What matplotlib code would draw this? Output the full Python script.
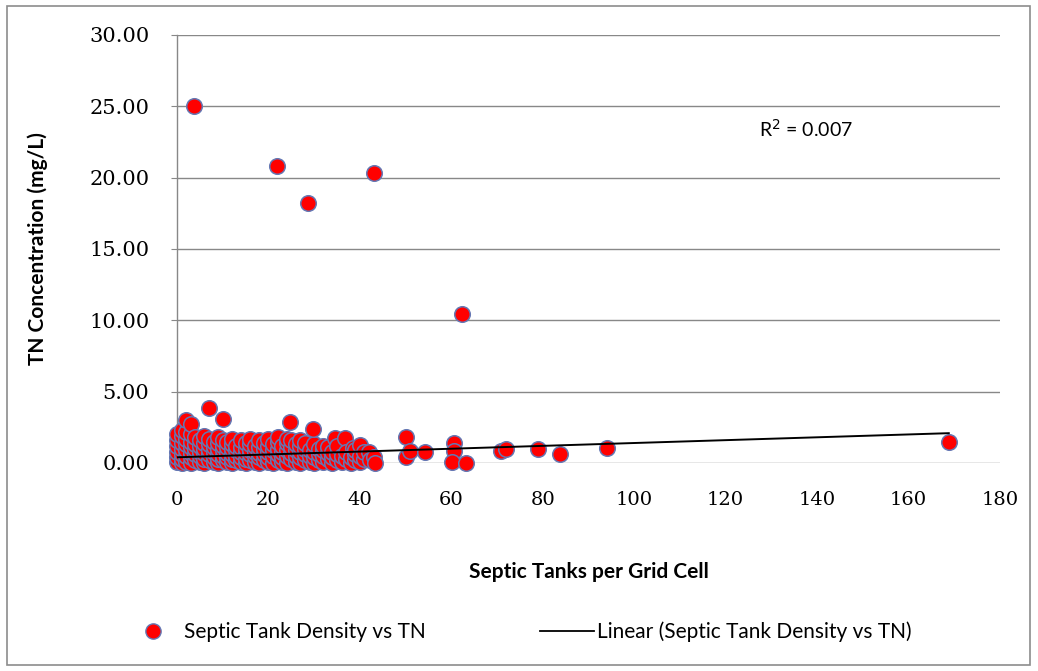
import matplotlib
matplotlib.use("Agg")
import matplotlib.pyplot as plt
from matplotlib.patches import Rectangle
from matplotlib.lines import Line2D

# septic tanks per grid cell (x) and TN concentration in mg/L (y)
tank_counts = [
    0, 0, 0, 0, 0, 0,
    1, 1, 1, 1, 1, 1, 1,
    2, 2, 2, 2, 2, 2, 2,
    3, 3, 3, 3, 3, 3, 3,
    3.7,
    4, 4, 4, 4, 4,
    5, 5, 5, 5, 5,
    6, 6, 6, 6, 6, 6,
    7, 7, 7, 7, 7, 7,
    8, 8, 8, 8, 8,
    9, 9, 9, 9, 9, 9,
    10, 10, 10, 10, 10, 10,
    11, 11, 11, 11, 11,
    12, 12, 12, 12, 12, 12,
    13, 13, 13, 13,
    14, 14, 14, 14, 14,
    15, 15, 15, 15, 15,
    16, 16, 16, 16, 16,
    17, 17, 17, 17,
    18, 18, 18, 18, 18,
    19, 19, 19, 19,
    20, 20, 20, 20, 20,
    21, 21, 21, 21,
    22, 22, 22, 22, 22, 21.9,
    23, 23, 23, 23,
    24, 24, 24, 24, 24,
    25, 25, 25, 25, 24.8,
    26, 26, 26, 26,
    27, 27, 27, 27, 27,
    28, 28, 28, 28,
    29, 29, 29, 28.7,
    30, 30, 30, 30, 29.8,
    31, 31, 31,
    32, 32, 32, 32,
    33, 33, 33,
    34, 34, 34, 34.6,
    35, 35, 35,
    36, 36, 36.8,
    37, 37,
    38, 38, 38.4,
    39, 39, 39,
    40, 40, 40,
    41, 41,
    42, 42.3,
    43, 43.4, 43.0,
    50, 50, 51, 54.2,
    60.6, 60.5, 60.2, 62.3, 63.1,
    70.8, 72, 79, 83.8, 94, 168.8,
]
tn_conc = [
    0.1, 0.4, 0.8, 1.2, 1.6, 2.0,
    0.0, 0.3, 0.6, 1.0, 1.4, 1.9, 2.3,
    0.1, 0.5, 0.9, 1.3, 1.7, 2.2, 3.0,
    0.0, 0.4, 0.7, 1.1, 1.5, 2.0, 2.7,
    25.05,
    0.2, 0.6, 1.0, 1.3, 1.8,
    0.1, 0.5, 0.8, 1.2, 1.6,
    0.0, 0.3, 0.7, 1.0, 1.4, 1.9,
    0.2, 0.6, 0.9, 1.3, 1.7, 3.85,
    0.1, 0.4, 0.8, 1.1, 1.5,
    0.0, 0.3, 0.6, 1.0, 1.4, 1.8,
    0.2, 0.5, 0.9, 1.2, 1.6, 3.1,
    0.1, 0.4, 0.7, 1.1, 1.5,
    0.0, 0.3, 0.6, 1.0, 1.3, 1.7,
    0.2, 0.5, 0.9, 1.2,
    0.1, 0.4, 0.8, 1.1, 1.6,
    0.0, 0.3, 0.7, 1.0, 1.4,
    0.2, 0.6, 0.9, 1.3, 1.7,
    0.1, 0.5, 0.8, 1.2,
    0.0, 0.4, 0.7, 1.1, 1.6,
    0.2, 0.6, 1.0, 1.4,
    0.1, 0.4, 0.8, 1.2, 1.7,
    0.0, 0.5, 0.9, 1.3,
    0.2, 0.6, 1.0, 1.5, 1.8, 20.8,
    0.1, 0.4, 0.8, 1.2,
    0.0, 0.5, 0.9, 1.4, 1.7,
    0.3, 0.7, 1.1, 1.6, 2.9,
    0.1, 0.5, 0.9, 1.3,
    0.0, 0.4, 0.8, 1.2, 1.6,
    0.2, 0.6, 1.0, 1.4,
    0.1, 0.5, 0.9, 18.2,
    0.0, 0.4, 0.8, 1.3, 2.4,
    0.2, 0.6, 1.0,
    0.1, 0.5, 0.9, 1.2,
    0.3, 0.7, 1.1,
    0.0, 0.4, 0.8, 1.75,
    0.2, 0.6, 1.2,
    0.1, 0.5, 1.75,
    0.3, 0.8,
    0.0, 0.4, 1.05,
    0.2, 0.6, 0.9,
    0.1, 0.5, 1.26,
    0.3, 0.8,
    0.8, 0.2,
    0.4, 0.0, 20.3,
    1.8, 0.45, 0.85, 0.8,
    1.4, 0.85, 0.1, 10.44, 0.0,
    0.85, 0.95, 0.98, 0.65, 1.05, 1.48,
]

# linear trendline as drawn on the chart
trend_x = [0, 168.8]
trend_y = [0.40, 2.09]
r_squared = "R$^2$ = 0.007"

x_ticks = [0, 20, 40, 60, 80, 100, 120, 140, 160, 180]
y_ticks = [0, 5, 10, 15, 20, 25, 30]

fig = plt.figure(figsize=(10.38, 6.71), dpi=100)
ax = fig.add_axes([177 / 1038, (671 - 463) / 671, 823 / 1038, 428 / 671])

grid_color = "#888888"
ax.set_xlim(0, 180)
ax.set_ylim(0, 30)
ax.set_yticks(y_ticks)
ax.set_yticklabels([f"{v:.2f}" for v in y_ticks])
ax.set_xticks(x_ticks)
ax.set_xticklabels([str(v) for v in x_ticks])
for y in y_ticks:
    ax.axhline(y, color=grid_color, lw=1, zorder=1)

for side in ["top", "right", "bottom"]:
    ax.spines[side].set_visible(False)
ax.spines["left"].set_color(grid_color)
ax.spines["left"].set_linewidth(1)

ax.tick_params(axis="y", length=4, color=grid_color, pad=16, labelsize=15)
ax.tick_params(axis="x", length=0, pad=20, labelsize=14)
for lab in ax.get_xticklabels() + ax.get_yticklabels():
    lab.set_family("DejaVu Serif")

ax.scatter(tank_counts, tn_conc, s=125, c="#FF0000", edgecolors="#6478B4",
           linewidths=1.1, zorder=3, clip_on=False)
ax.plot(trend_x, trend_y, color="black", lw=1.4, zorder=4)

ax.text(0.764, 0.78, r_squared, transform=ax.transAxes, ha="center", va="center",
        fontsize=14, family="Lato")

ax.set_ylabel("TN Concentration (mg/L)", fontsize=15, fontweight="bold", family="Lato")
ax.yaxis.set_label_coords(-0.157, 0.5)
ax.set_xlabel("Septic Tanks per Grid Cell", fontsize=15, fontweight="bold", family="Lato")
ax.xaxis.set_label_coords(0.5, -0.231)

handles = [
    Line2D([], [], marker="o", linestyle="none", markersize=11,
           markerfacecolor="#FF0000", markeredgecolor="#6478B4"),
    Line2D([], [], color="black", lw=1.3),
]
fig.legend(handles, ["Septic Tank Density vs TN", "Linear (Septic Tank Density vs TN)"],
           loc="center", bbox_to_anchor=(0.5, (671 - 632) / 671), ncol=2, frameon=False,
           prop={"family": "Lato", "size": 15}, handlelength=2.6, handletextpad=0.15,
           columnspacing=5.5)

# outer chart border
fig.patches.append(Rectangle((7 / 1038, 6 / 671), 1023 / 1038, 659 / 671,
                             transform=fig.transFigure, fill=False,
                             edgecolor="#8C8C8C", lw=1.2))

fig.savefig("out.png", dpi=100)
